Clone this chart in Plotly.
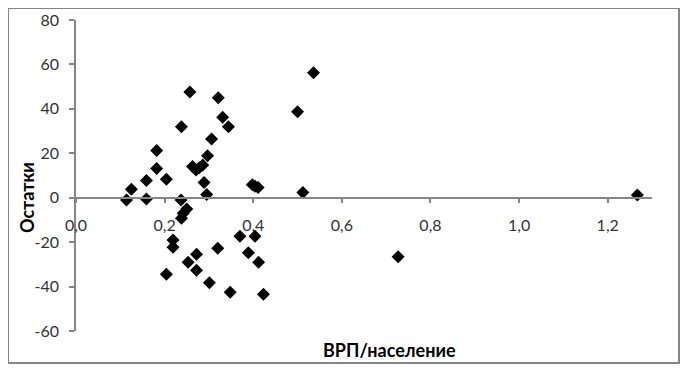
import plotly.graph_objects as go

x_vals = [0.114, 0.125, 0.159, 0.159, 0.182, 0.182, 0.204, 0.238, 0.237, 0.250, 0.242, 0.238,
          0.257, 0.321, 0.331, 0.344, 0.306, 0.297, 0.263, 0.271, 0.278, 0.286, 0.289, 0.295,
          0.398, 0.404, 0.411, 0.500, 0.536, 0.512,
          0.219, 0.219, 0.204, 0.253, 0.272, 0.272, 0.301, 0.320, 0.348, 0.370, 0.404, 0.389,
          0.412, 0.423, 0.727, 1.267]
residuals = [-1.0, 3.8, 7.7, -0.6, 21.2, 13.2, 8.3, 32.0, -1.0, -5.1, -7.0, -9.3,
             47.6, 45.0, 36.2, 32.0, 26.4, 18.9, 14.0, 12.5, 13.5, 14.7, 6.8, 1.5,
             5.8, 5.2, 4.6, 38.7, 56.3, 2.3,
             -19.0, -22.3, -34.4, -29.1, -25.5, -32.6, -38.3, -22.8, -42.6, -17.3, -17.3, -24.8,
             -29.1, -43.5, -26.6, 1.2]

x_ticks = [0.0, 0.2, 0.4, 0.6, 0.8, 1.0, 1.2]
x_tick_labels = ["0,0", "0,2", "0,4", "0,6", "0,8", "1,0", "1,2"]
y_ticks = [-60, -40, -20, 0, 20, 40, 60, 80]
y_tick_labels = ["-60", "-40", "-20", "0", "20", "40", "60", "80"]

x_title = "ВРП/население"
y_title = "Остатки"

FONT = "Lato, 'Open Sans', sans-serif"
AXIS_COLOR = "#868686"
LABEL_COLOR = "#333333"
Y_MIN, Y_MAX = -60, 80
W, H = 688, 370
OFF = 8  # page body margin


def px(x):
    return (x - OFF) / W


def py(y):
    return 1 - (y - OFF) / H


xdom = [px(76), px(652)]
ydom = [py(331), py(20)]
zero_pos = ydom[0] + (0 - Y_MIN) / (Y_MAX - Y_MIN) * (ydom[1] - ydom[0])

fig = go.Figure()
# empty trace so that the frame subplot (x2/y2) is created; it draws the chart border
fig.add_trace(go.Scatter(x=[], y=[], xaxis="x2", yaxis="y2", showlegend=False,
                         hoverinfo="skip"))
fig.add_trace(go.Scatter(
    x=x_vals, y=residuals, mode="markers",
    marker=dict(symbol="diamond", size=10, color="black", line=dict(width=0)),
    showlegend=False, cliponaxis=False,
))

frame_axis = dict(showline=True, mirror=True, linecolor=AXIS_COLOR, linewidth=1.5,
                  showgrid=False, zeroline=False, showticklabels=False, ticks="",
                  fixedrange=True, automargin=False, range=[0, 1])

fig.update_layout(
    width=W, height=H,
    margin=dict(l=0, r=0, t=0, b=0, autoexpand=False),
    paper_bgcolor="white", plot_bgcolor="rgba(0,0,0,0)",
    font=dict(family=FONT, size=16, color=LABEL_COLOR),
    xaxis=dict(
        domain=xdom,
        range=[0, 1.3], showgrid=False, zeroline=False, automargin=False,
        showline=True, linecolor=AXIS_COLOR, linewidth=1.5,
        ticks="outside", ticklen=5, tickcolor=AXIS_COLOR, tickwidth=1.5,
        tickvals=x_ticks, ticktext=x_tick_labels, ticklabelstandoff=8,
        anchor="free", position=zero_pos,
        tickfont=dict(size=16, color=LABEL_COLOR),
    ),
    yaxis=dict(
        domain=ydom,
        range=[Y_MIN, Y_MAX], showgrid=False, zeroline=False, automargin=False,
        showline=True, linecolor=AXIS_COLOR, linewidth=1.5,
        ticks="outside", ticklen=5, tickcolor=AXIS_COLOR, tickwidth=1.5,
        tickvals=y_ticks, ticktext=y_tick_labels, ticklabelstandoff=7,
        tickfont=dict(size=16, color=LABEL_COLOR),
    ),
    xaxis2=dict(domain=[0.8 / W, 670 / W], anchor="y2", **frame_axis),
    yaxis2=dict(domain=[1 - 354 / H, 1 - 0.8 / H], anchor="x2", **frame_axis),
    annotations=[
        dict(text="<b>" + x_title + "</b>", xref="paper", yref="paper",
             x=px(389), y=py(350), showarrow=False,
             xanchor="center", yanchor="middle",
             font=dict(family=FONT, size=18, color="black")),
        dict(text="<b>" + y_title + "</b>", xref="paper", yref="paper",
             x=px(27), y=py(198), showarrow=False,
             textangle=-90, xanchor="center", yanchor="middle",
             font=dict(family=FONT, size=18, color="black")),
    ],
)

fig.write_html("out.html")
